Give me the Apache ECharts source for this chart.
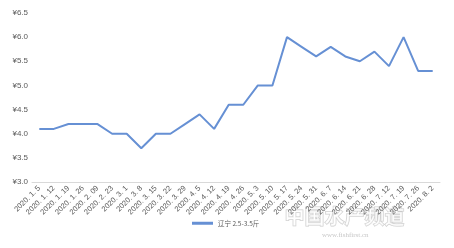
<!DOCTYPE html>
<html><head><meta charset="utf-8">
<script src="https://cdn.jsdelivr.net/npm/echarts@6/dist/echarts.min.js"></script>
<style>html,body{margin:0;padding:0;background:#fff}#c{width:454px;height:248px}</style>
</head><body><div id="c"></div>
<script>
const categories = ['2020. 1. 5','2020. 1. 12','2020. 1. 19','2020. 1. 26','2020. 2. 09','2020. 2. 23','2020. 3. 1','2020. 3. 8','2020. 3. 15','2020. 3. 22','2020. 3. 29','2020. 4. 5','2020. 4. 12','2020. 4. 19','2020. 4. 26','2020. 5. 3','2020. 5. 10','2020. 5. 17','2020. 5. 24','2020. 5. 31','2020. 6. 7','2020. 6. 14','2020. 6. 21','2020. 6. 28','2020. 7. 12','2020. 7. 19','2020. 7. 26','2020. 8. 2'];
const seriesName = '辽宁 2.5-3.5斤';
const prices = [4.1,4.1,4.2,4.2,4.2,4.0,4.0,3.7,4.0,4.0,4.2,4.4,4.1,4.6,4.6,5.0,5.0,6.0,5.8,5.6,5.8,5.6,5.5,5.7,5.4,6.0,5.3,5.3];
const yTicks = {min:3.0, max:6.5, interval:0.5};

const chart = echarts.init(document.getElementById('c'));
chart.setOption({
  animation:false,
  grid:{left:32,right:14,top:13,bottom:66},
  legend:{top:215,left:187,itemWidth:21,itemHeight:3,icon:'rect',itemGap:3,
    textStyle:{fontSize:6.5,color:'#595959',fontFamily:'Noto Sans CJK SC'}},
  xAxis:{type:'category',data:categories,boundaryGap:true,
    axisLine:{lineStyle:{color:'#d9d9d9'}},axisTick:{show:false},
    axisLabel:{interval:0,rotate:45,fontSize:7.5,color:'#595959',margin:5,fontFamily:'Liberation Sans'}},
  yAxis:{type:'value',min:yTicks.min,max:yTicks.max,interval:yTicks.interval,
    splitLine:{show:false},axisLine:{show:false},axisTick:{show:false},
    axisLabel:{fontSize:8,color:'#595959',margin:4,fontFamily:'Liberation Sans',
      formatter:v=>'¥'+v.toFixed(1)}},
  series:[{name:seriesName,type:'line',data:prices,symbol:'none',
    lineStyle:{color:'#6690d4',width:2},itemStyle:{color:'#6690d4'}}],
  graphic:[
    {type:'text',left:284,top:206,style:{text:'中国水产频道',fontSize:20,fontWeight:'bold',fill:'rgba(255,255,255,0.6)',stroke:'rgba(150,150,150,0.5)',lineWidth:1,fontFamily:'Noto Sans CJK SC'}},
    {type:'text',left:322,top:232,style:{text:'www.fishfirst.cn',fontSize:7,fill:'rgba(160,160,160,0.6)',fontFamily:'Liberation Serif'}}
  ]
});
</script></body></html>
